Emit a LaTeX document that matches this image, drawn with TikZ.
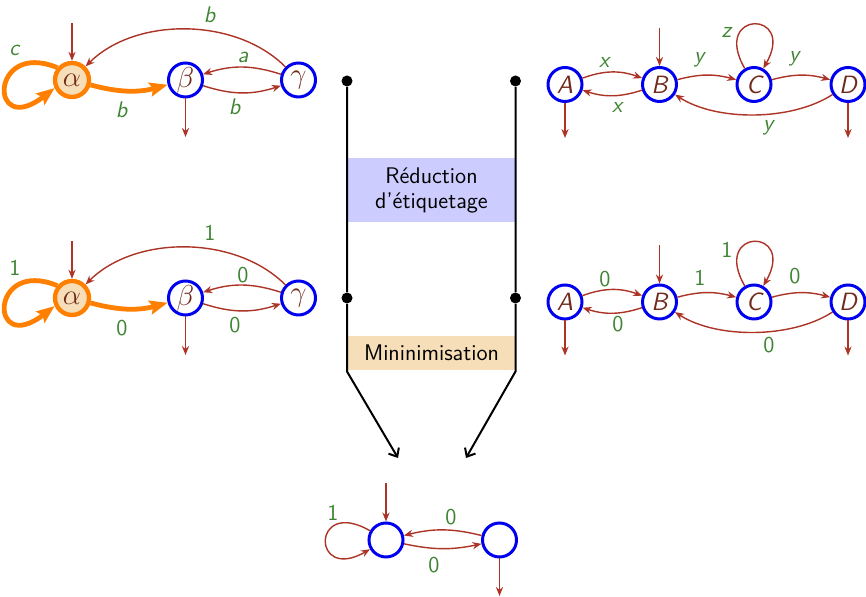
\documentclass[tikz,border=0pt]{standalone}
\usepackage{fontspec}
\usetikzlibrary{arrows.meta}
\definecolor{tred}{RGB}{172,52,38}
\definecolor{lgreen}{RGB}{62,132,50}
\definecolor{nbrown}{RGB}{112,42,28}
\definecolor{sblue}{RGB}{0,0,240}
\definecolor{sorange}{RGB}{255,128,0}
\definecolor{swheat}{RGB}{245,222,184}
\definecolor{sbluebox}{RGB}{204,204,255}
\tikzset{
 st/.style={circle, draw=sblue, line width=1.5pt, minimum size=17pt, inner sep=0pt, text=nbrown, font=\fontsize{12.5}{15}\selectfont\sffamily\itshape},
 gk/.style={font=\fontsize{14.4}{16}\selectfont},
 stinit/.style={st, draw=sorange, fill=swheat, line width=2.2pt},
 tr/.style={draw=tred, line width=0.7pt, -{Stealth[length=4.5pt,width=3.6pt]}},
 hot/.style={draw=sorange, line width=2.4pt, -{Stealth[length=9pt,width=7pt,inset=1.5pt]}},
 lab/.style={text=lgreen, font=\fontsize{11.3}{13.5}\selectfont\sffamily, inner sep=0pt},
 dotn/.style={circle, fill=black, minimum size=5.5pt, inner sep=0pt},
 flow/.style={draw=black, line width=1pt},
 flowarr/.style={flow, -{Straight Barb[length=3.5pt,width=6pt]}},
 stepbox/.style={minimum width=83.5pt, inner sep=0pt, align=center, font=\fontsize{11.3}{12.5}\selectfont\sffamily}
}
\newcommand\leftaut[7]{%
\begin{scope}[shift={(0,#2)}]
\node[stinit, gk] (#1a) at (72,517) {$\alpha$};
\node[st, gk] (#1b) at (185.5,517) {$\beta$};
\node[st, gk] (#1g) at (298.5,517) {$\gamma$};
\coordinate (#1i) at (72,574);
\coordinate (#1f) at (185.5,460);
\draw[tr] (#1i) -- (#1a);
\draw[tr] (#1b) -- (#1f);
\draw[hot] (#1a.140) .. controls +(-68,28) and +(-66,-51) .. (#1a.205);
\draw[hot] (#1a) to[bend right=15] (#1b);
\draw[tr] (#1b) to[bend right=18] (#1g);
\draw[tr] (#1g) to[bend right=18] (#1b);
\draw[tr] (#1g) to[bend right=45, looseness=0.9] (#1a);
\node[lab] (#1l1) at (15,547) {#3};
\node[lab] (#1l2) at (122,487) {#4};
\node[lab] (#1l3) at (235,490) {#5};
\node[lab] (#1l4) at (243,540) {#6};
\node[lab] (#1l5) at (210,582) {#7};
\end{scope}}
\newcommand\rightaut[8]{%
\begin{scope}[shift={(0,#2)}]
\node[st] (#1A) at (565,512.5) {A};
\node[st] (#1B) at (659.5,512.5) {B};
\node[st] (#1C) at (754,512.5) {C};
\node[st] (#1D) at (848,512.5) {D};
\coordinate (#1i) at (659.5,569);
\coordinate (#1fa) at (565,459);
\coordinate (#1fd) at (848,459);
\draw[tr] (#1i) -- (#1B);
\draw[tr] (#1A) -- (#1fa);
\draw[tr] (#1D) -- (#1fd);
\draw[tr] (#1A) to[bend left=20] (#1B);
\draw[tr] (#1B) to[bend left=18] (#1A);
\draw[tr] (#1B) to[bend left=15] (#1C);
\draw[tr] (#1C) to[out=120, in=60, distance=34pt] (#1C);
\draw[tr] (#1C) to[bend left=15] (#1D);
\draw[tr] (#1D) to[bend left=33, looseness=0.8] (#1B);
\node[lab] (#1l1) at (605,535) {#3};
\node[lab] (#1l2) at (618,490) {#4};
\node[lab] (#1l3) at (700,537) {#5};
\node[lab] (#1l4) at (727,565) {#6};
\node[lab] (#1l5) at (795,538) {#7};
\node[lab] (#1l6) at (769,469) {#8};
\end{scope}}
\begin{document}
\begin{tikzpicture}[x=0.5pt, y=0.5pt]
\useasboundingbox (0,0) rectangle (866,597);
% automata
\leftaut{p}{0}{\textit{c}}{\textit{b}}{\textit{b}}{\textit{a}}{\textit{b}}
\leftaut{q}{-218}{1}{0}{0}{0}{1}
\rightaut{r}{0}{\textit{x}}{\textit{x}}{\textit{y}}{\textit{z}}{\textit{y}}{\textit{y}}
\rightaut{s}{-217.5}{0}{0}{1}{1}{0}{0}
% boxes
\node[stepbox, fill=sbluebox, minimum height=32pt] (red) at (431.5,407) {Réduction\\d’étiquetage};
\node[stepbox, fill=swheat, minimum height=17pt] (mini) at (431.5,244) {Mininimisation};
% flow lines
\node[dotn] (d1) at (347,516) {};
\node[dotn] (d2) at (347,299) {};
\node[dotn] (d3) at (515.5,516) {};
\node[dotn] (d4) at (515.5,299) {};
\coordinate (e1) at (347,225.5);
\coordinate (e2) at (515.5,225.5);
\coordinate (t1) at (398,139);
\coordinate (t2) at (466,139);
\draw[flowarr] (d1) -- (d2) -- (e1) -- (t1);
\draw[flowarr] (d3) -- (d4) -- (e2) -- (t2);
% minimal automaton
\node[st] (L) at (386,57) {};
\node[st] (R) at (499.5,57) {};
\coordinate (Li) at (386,114);
\coordinate (Rf) at (499.5,1);
\draw[tr] (Li) -- (L);
\draw[tr] (R) -- (Rf);
\draw[tr] (L) to[out=150, in=210, distance=34pt] (L);
\draw[tr] (R) to[bend right=14] (L);
\draw[tr] (L) to[bend right=12] (R);
\node[lab] (m1) at (333,84) {1};
\node[lab] (m2) at (451,80) {0};
\node[lab] (m3) at (434,32) {0};
\end{tikzpicture}
\end{document}
